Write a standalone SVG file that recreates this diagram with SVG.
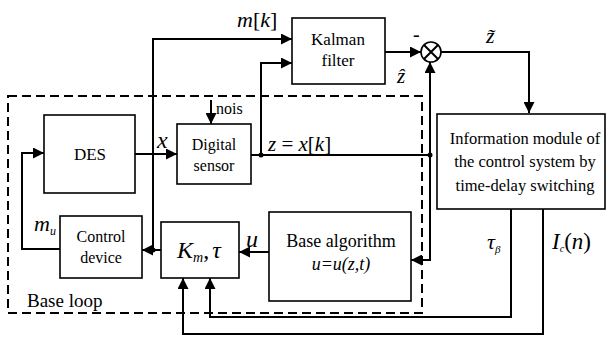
<svg xmlns="http://www.w3.org/2000/svg" width="608" height="338" viewBox="0 0 608 338" font-family="'Liberation Serif', 'DejaVu Serif', 'Times New Roman', serif">
<defs>
<marker id="ah" viewBox="0 0 10 10" refX="10" refY="5" markerWidth="11" markerHeight="11" markerUnits="userSpaceOnUse" orient="auto">
<path d="M0,0 L10,5 L0,10 z" fill="#000"/>
</marker>
</defs>
<style>
.box{fill:#fff;stroke:#000;stroke-width:1.6}
.ln{fill:none;stroke:#000;stroke-width:2}
.arr{fill:none;stroke:#000;stroke-width:2;marker-end:url(#ah)}
.dash{fill:none;stroke:#000;stroke-width:2;stroke-dasharray:9,5}
text{font-family:'Liberation Serif','DejaVu Serif','Times New Roman',serif;fill:#000}
.t{text-anchor:middle}
.m{font-style:italic}
</style>
<rect width="608" height="338" fill="#fff"/>
<rect class="dash" x="8" y="96" width="414" height="217"/>
<g id="connectors">
<path class="arr" d="M153,250 V39 H292"/>
<path class="arr" d="M261,155 V63 H292"/>
<path class="ln" d="M251,155 H430"/>
<path class="arr" d="M430,155 V62"/>
<path class="arr" d="M430,155 V260 H411"/>
<path class="arr" d="M385,52 H421"/>
<path class="arr" d="M441,52 H529 V113"/>
<path class="arr" d="M135,154 H177"/>
<path class="arr" d="M211,100 V124"/>
<path class="arr" d="M60,249 H22 V153 H44"/>
<path class="arr" d="M161,250 H142"/>
<path class="arr" d="M269,252 H239"/>
<path class="arr" d="M511,209 V317 H210 V278"/>
<path class="arr" d="M543,209 V334 H183 V278"/>
<circle cx="261" cy="155" r="2.5" fill="#000"/>
<circle cx="430" cy="155" r="2.5" fill="#000"/>
<circle cx="153" cy="250" r="2.5" fill="#000"/>
</g>
<g id="des"><rect class="box" x="44" y="115" width="91" height="78"/><text class="t" x="90" y="160" font-size="17">DES</text></g>
<g id="sensor"><rect class="box" x="177" y="124" width="74" height="60"/><text class="t" x="214" y="150" font-size="16">Digital</text><text class="t" x="214" y="171" font-size="16">sensor</text></g>
<g id="kalman"><rect class="box" x="292" y="18" width="93" height="66"/><text class="t" x="338" y="45" font-size="17">Kalman</text><text class="t" x="338" y="66" font-size="17">filter</text></g>
<g id="summer"><circle cx="431" cy="52" r="10" fill="#fff" stroke="#000" stroke-width="1.6"/><path class="ln" d="M424,45 L438,59 M438,45 L424,59" stroke-width="1.5"/></g>
<g id="info"><rect class="box" x="437" y="114" width="168" height="95"/><text class="t" x="525" y="144" font-size="16.5">Information module of</text><text class="t" x="525" y="167" font-size="16.5">the control system by</text><text class="t" x="525" y="191" font-size="16.5">time-delay switching</text></g>
<g id="control"><rect class="box" x="60" y="216" width="82" height="62"/><text class="t" x="101" y="242" font-size="16">Control</text><text class="t" x="101" y="263" font-size="16">device</text></g>
<g id="km"><rect class="box" x="161" y="222" width="78" height="56"/><text x="177" y="258" font-size="24"><tspan font-style="italic">K</tspan><tspan font-style="italic" font-size="14" dy="4">m</tspan><tspan dy="-4">,</tspan><tspan font-style="italic" dx="3">τ</tspan></text></g>
<g id="base"><rect class="box" x="269" y="212" width="142" height="89"/><text class="t" x="341" y="247" font-size="18">Base algorithm</text><text class="t m" x="341" y="270" font-size="18">u=u(z,t)</text></g>
<g id="labels">
<text x="237" y="27" font-size="22"><tspan font-style="italic">m</tspan>[<tspan font-style="italic">k</tspan>]</text>
<text x="413" y="41" font-size="20">-</text>
<text class="m" x="486" y="43" font-size="22">z̃</text>
<text class="m" x="397" y="83" font-size="21">ẑ</text>
<text x="216" y="114" font-size="16">nois</text>
<text class="m" x="157" y="148" font-size="24">x</text>
<text x="268" y="151" font-size="21"><tspan font-style="italic">z</tspan> = <tspan font-style="italic">x</tspan>[<tspan font-style="italic">k</tspan>]</text>
<text x="34" y="231" font-size="22"><tspan font-style="italic">m</tspan><tspan font-style="italic" font-size="12" dy="4">u</tspan></text>
<text class="m" x="246" y="247" font-size="24">u</text>
<text x="487" y="249" font-size="22"><tspan font-style="italic">τ</tspan><tspan font-style="italic" font-size="11" dy="4">β</tspan></text>
<text x="552" y="249" font-size="23"><tspan font-style="italic">I</tspan><tspan font-style="italic" font-size="10" dy="3">c</tspan><tspan dy="-3">(</tspan><tspan font-style="italic">n</tspan>)</text>
<text x="27" y="307" font-size="19">Base loop</text>
</g>
</svg>
